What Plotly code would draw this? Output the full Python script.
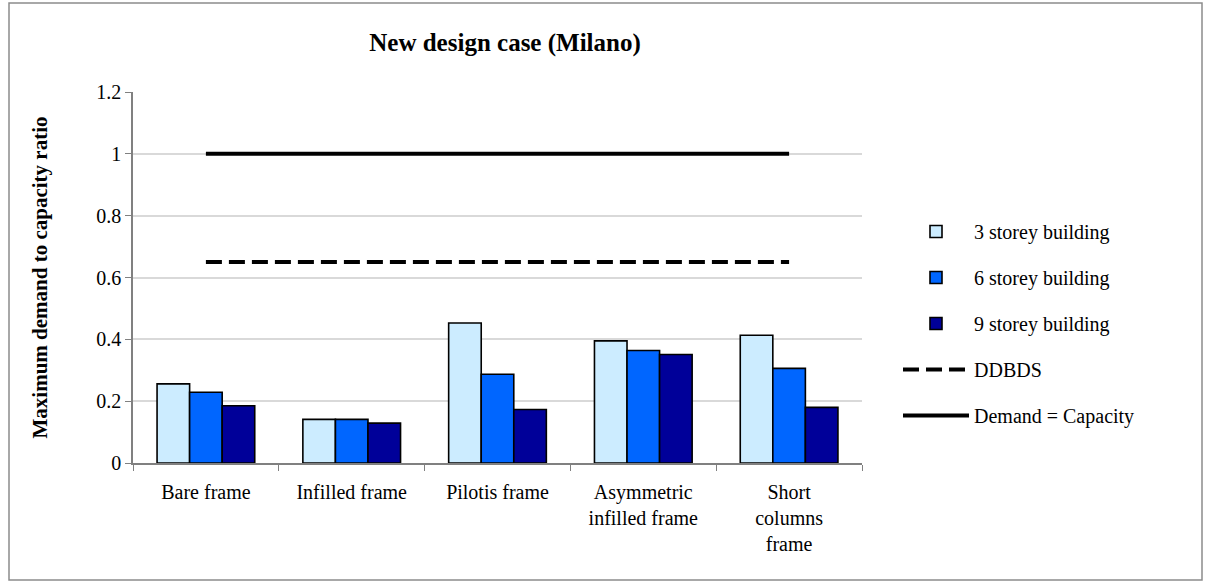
import plotly.graph_objects as go

categories = ["Bare frame", "Infilled frame", "Pilotis frame",
              "Asymmetric<br>infilled frame", "Short<br>columns<br>frame"]
s3 = [0.256, 0.141, 0.453, 0.395, 0.413]
s6 = [0.229, 0.141, 0.287, 0.364, 0.306]
s9 = [0.185, 0.129, 0.173, 0.351, 0.180]
ddbds = [0.65, 0.65, 0.65, 0.65, 0.65]
demand_capacity = [1.0, 1.0, 1.0, 1.0, 1.0]
y_ticks = [0, 0.2, 0.4, 0.6, 0.8, 1, 1.2]
y_ticktext = ["0", "0.2", "0.4", "0.6", "0.8", "1", "1.2"]

FONT = "Liberation Serif, Times New Roman, serif"

fig = go.Figure()
for name, vals, col, grp in [("3 storey building", s3, "#CCECFF", "a"),
                             ("6 storey building", s6, "#0066FF", "b"),
                             ("9 storey building", s9, "#000099", "c")]:
    fig.add_trace(go.Bar(x=categories, y=vals, name=name, legendgroup=grp,
                         marker=dict(color=col, line=dict(color="black", width=1.6))))
fig.add_trace(go.Scatter(x=categories, y=ddbds, name="DDBDS", mode="lines", legendgroup="d",
                         line=dict(color="black", width=4, dash="16px,7px")))
fig.add_trace(go.Scatter(x=categories, y=demand_capacity, name="Demand = Capacity", mode="lines",
                         legendgroup="e", line=dict(color="black", width=4)))

W, H = 1210, 584
L, R, T, B = 133, 348, 92, 121
pw, ph = W - L - R, H - T - B

fig.update_layout(
    width=W, height=H,
    margin=dict(l=L, r=R, t=T, b=B),
    paper_bgcolor="white", plot_bgcolor="white",
    font=dict(family=FONT, size=20, color="black"),
    barmode="group", bargap=0.33, bargroupgap=0,
    title=dict(text="<b>New design case (Milano)</b>", x=505 / W, xanchor="center",
               y=1 - 42 / H, yanchor="middle", font=dict(size=25, family=FONT)),
    xaxis=dict(showline=True, linecolor="#808080", linewidth=1.5, ticks="outside",
               tickson="boundaries", tickcolor="#808080", ticklen=6, showgrid=False,
               ticklabelstandoff=10,
               tickfont=dict(size=20, family=FONT)),
    yaxis=dict(range=[0, 1.2], tickvals=y_ticks, ticktext=y_ticktext,
               showline=True, linecolor="#808080", linewidth=1.5, ticks="outside",
               tickcolor="#808080", ticklen=6, showgrid=True, gridcolor="#D9D9D9", gridwidth=2,
               zeroline=False,
               title=dict(text="<b>Maximum demand to capacity ratio</b>", standoff=43,
                          font=dict(size=21, family=FONT)),
               tickfont=dict(size=20, family=FONT)),
    legend=dict(x=(898 - L) / pw, y=(H - B - 212) / ph, xanchor="left", yanchor="top",
                font=dict(size=20, family=FONT), tracegroupgap=17, traceorder="grouped",
                itemwidth=66, bgcolor="rgba(0,0,0,0)"),
    showlegend=True,
)
fig.add_shape(type="rect", xref="paper", yref="paper",
              x0=(9 - L) / pw, x1=(1202 - L) / pw,
              y0=(H - B - 580) / ph, y1=(H - B - 3) / ph,
              line=dict(color="#8C8C8C", width=1.5), fillcolor="rgba(0,0,0,0)", layer="below")

fig.write_html("out.html", post_script="document.body.style.margin='0';",
               config={"displayModeBar": False})
